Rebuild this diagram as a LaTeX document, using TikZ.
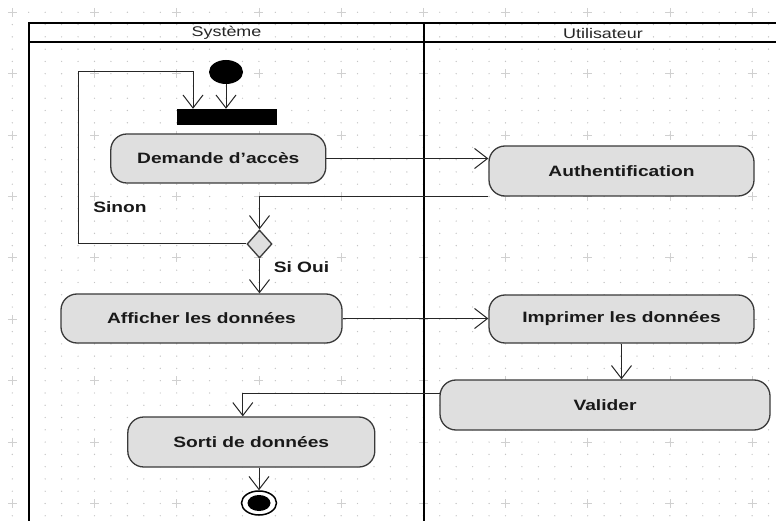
\documentclass[tikz,border=0pt]{standalone}
\usepackage{fontspec}
\setmainfont[FakeStretch=1.28]{Liberation Sans}
\usetikzlibrary{arrows.meta,shapes.geometric}

\definecolor{boxgray}{HTML}{DFDFDF}
\definecolor{edgegray}{HTML}{3A3A3A}
\definecolor{gridgray}{HTML}{C4C4C4}

\tikzset{
  activity/.style={draw=edgegray, line width=1.3pt, fill=boxgray, rounded corners=16pt,
    font=\fontsize{15}{18}\selectfont\bfseries, text=black!90, inner sep=0pt},
  flow/.style={-{Straight Barb[length=13pt,width=20pt,line width=1pt]}, line width=1pt, black!85},
  lane/.style={line width=2.9pt, black},
  lanehead/.style={font=\fontsize{14}{16}\selectfont, text=black!85, inner sep=0pt},
  guard/.style={font=\fontsize{15}{18}\selectfont\bfseries, text=black!90, inner sep=0pt},
}

\begin{document}
\begin{tikzpicture}[x=1pt,y=-1pt]
  \useasboundingbox (0,0) rectangle (776,521);
  \fill[white] (0,0) rectangle (776,521);

  % grid of the editor
  \foreach \i in {0,...,46}
    \foreach \j in {0,...,41}
      \fill[gridgray] (12.3+\i*16.44, 12.3+\j*12.28) circle (0.7pt);
  \foreach \i in {0,...,9}
    \foreach \j in {0,...,8}
      \draw[gridgray!80, line width=0.8pt] (7.8+\i*82.2, 12.3+\j*61.4) -- ++(9,0)
        (12.3+\i*82.2, 7.8+\j*61.4) -- ++(0,9);

  % swimlanes
  \draw[lane] (776,23) -- (29,23) -- (29,521);
  \draw[lane] (29,42) -- (776,42);
  \draw[lane] (424,23) -- (424,521);
  \node[lanehead] (sysHead) at (226.5,33) {Système};
  \node[lanehead] (userHead) at (603,33) {Utilisateur};

  % nodes
  \node[ellipse, fill=black, minimum width=34pt, minimum height=24pt, inner sep=0pt] (start) at (226,72) {};
  \node[rectangle, fill=black, minimum width=100pt, minimum height=16pt, inner sep=0pt] (fork) at (227,117) {};
  \node[activity, minimum width=215pt, minimum height=49pt] (demande) at (218.3,158.5) {Demande d'accès};
  \node[activity, minimum width=265pt, minimum height=50pt] (auth) at (621.5,171) {Authentification};
  \node[diamond, draw=edgegray, line width=1.3pt, fill=boxgray, minimum width=25pt, minimum height=28pt, inner sep=0pt] (decision) at (259.5,244) {};
  \node[activity, minimum width=281pt, minimum height=49pt] (afficher) at (201.5,318.5) {Afficher les données};
  \node[activity, minimum width=265pt, minimum height=48pt] (imprimer) at (621.5,319) {Imprimer les données};
  \node[activity, minimum width=330pt, minimum height=50pt] (valider) at (605,405) {Valider};
  \node[activity, minimum width=247pt, minimum height=50pt] (sorti) at (251.3,442) {Sorti de données};
  \node[ellipse, draw=black, line width=1.5pt, fill=white, minimum width=35pt, minimum height=24pt, inner sep=0pt] (fin) at (259,503) {};
  \fill[black] (fin) ellipse [x radius=11.5pt, y radius=8pt];

  \node[guard] (lblSinon) at (120,207) {Sinon};
  \node[guard] (lblOui) at (301.5,267) {Si Oui};

  % flows
  \coordinate (loopA) at (78,72);
  \coordinate (loopB) at (193,72);
  \coordinate (vOut) at (440,393);
  \draw[flow] (start) -- (start |- fork.north);
  \draw[flow] (decision.west) -| (loopA) -- (loopB) -- (loopB |- fork.north);
  \draw[flow] (demande.east) -- (demande.east -| auth.west);
  \draw[flow] (auth.south west) -| (decision.north);
  \draw[flow] (decision.south) -- (decision.south |- afficher.north);
  \draw[flow] (afficher.east) -- (afficher.east -| imprimer.west);
  \draw[flow] (imprimer.south) -- (imprimer.south |- valider.north);
  \draw[flow] (vOut) -| ([xshift=-8.5pt]sorti.north);
  \draw[flow] (fin.north |- sorti.south) -- (fin.north);
\end{tikzpicture}
\end{document}
